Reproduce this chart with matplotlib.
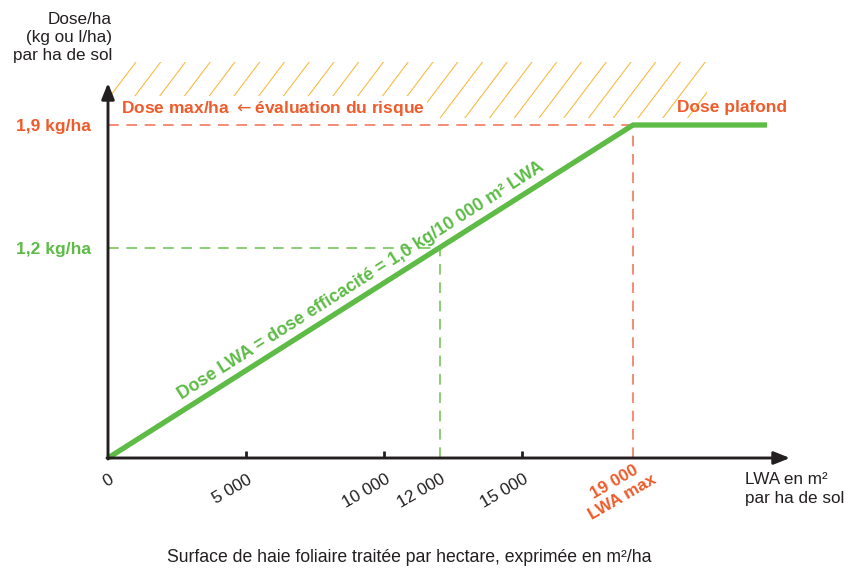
import matplotlib
matplotlib.use('Agg')
import matplotlib.pyplot as plt
import numpy as np
from matplotlib.transforms import ScaledTranslation
from matplotlib.patches import Rectangle

plt.rcParams['font.family'] = ['Liberation Sans', 'DejaVu Sans']

# ---------------- data ----------------
x_ticks = [0, 5000, 10000, 12000, 15000, 19000]
x_tick_labels = ['0', '5 000', '10 000', '12 000', '15 000', '19 000\nLWA max']
x_marked_ticks = [5000, 10000, 15000]
lwa = [0, 19000, 23850]          # m² LWA / ha
dose = [0.0, 1.9, 1.9]           # kg/ha
dose_max = 1.9
lwa_max = 19000
dose_eff = 1.2
lwa_eff = 12000
y_ticks = [1.9, 1.2]
y_tick_labels = ['1,9 kg/ha', '1,2 kg/ha']

# ---------------- style ----------------
ORANGE = '#EF5B2B'
ORANGE_DASH = '#F26E4E'
GREEN = '#5DBB46'
GREEN_DASH = '#6CC04E'
HATCH = '#F7B839'
DARK = '#231F20'

W, H = 858, 569
fig = plt.figure(figsize=(W / 100, H / 100), dpi=100)

x0px, y0px = 108, 458
xr_px, yt_px = 790, 62
px_per_x = (633 - 108) / 19000
px_per_y = (458 - 125) / 1.9
xmax = (xr_px - x0px) / px_per_x
ymax = (y0px - yt_px) / px_per_y

ax = fig.add_axes([x0px / W, (H - y0px) / H, (xr_px - x0px) / W, (y0px - yt_px) / H])
ax.set_xlim(0, xmax)
ax.set_ylim(0, ymax)
for s in ax.spines.values():
    s.set_visible(False)


def X(px):
    return (px - x0px) / px_per_x


def Y(py):
    return (y0px - py) / px_per_y


# hatched "risk" zone
rect = Rectangle((X(112), Y(118)), X(707) - X(112), Y(62) - Y(118),
                 facecolor='none', edgecolor='none')
ax.add_patch(rect)
slope = 41 / 56
for k in range(-3, 26):
    top = 136 + k * 24.75
    xs = [X(top + 2 * slope), X(top - 60 * slope)]
    ys = [Y(60), Y(120)]
    ln, = ax.plot(xs, ys, color=HATCH, lw=0.75, zorder=1)
    ln.set_clip_path(rect)

# reference dashed lines
dash = (0, (7, 5))
ax.plot([0, lwa_max], [dose_max, dose_max], ls=dash, color=ORANGE_DASH, lw=1.1, zorder=2)
ax.plot([lwa_max, lwa_max], [0, dose_max], ls=dash, color=ORANGE_DASH, lw=1.1, zorder=2)
ax.plot([0, lwa_eff], [dose_eff, dose_eff], ls=dash, color=GREEN_DASH, lw=1.1, zorder=2)
ax.plot([lwa_eff, lwa_eff], [0, dose_eff], ls=dash, color=GREEN_DASH, lw=1.1, zorder=2)

# dose curve
ax.plot(lwa, dose, color=GREEN, lw=3.8, solid_capstyle='butt',
        solid_joinstyle='miter', zorder=4, clip_on=False)

# axes arrows
arrow = dict(arrowstyle='-|>,head_length=0.8,head_width=0.32', lw=2.1,
             color=DARK, shrinkA=0, shrinkB=0, mutation_scale=12)
ax.annotate('', xy=(xmax, 0), xytext=(X(107), 0), arrowprops=arrow,
            annotation_clip=False, zorder=5)
ax.annotate('', xy=(0, Y(83)), xytext=(0, Y(459)), arrowprops=arrow,
            annotation_clip=False, zorder=5)

# x ticks
ax.set_xticks(x_ticks, x_tick_labels)
ax.set_xticks(x_marked_ticks, minor=True)
ax.xaxis.remove_overlapping_locs = False
ax.tick_params(axis='x', which='major', length=0, pad=10, labelsize=12.3, labelcolor=DARK)
ax.tick_params(axis='x', which='minor', direction='in', length=5, width=2, color=DARK)
labs = ax.get_xticklabels()
for i, lab in enumerate(labs):
    lab.set_rotation(30)
    lab.set_ha('right')
    lab.set_va('top')
    lab.set_rotation_mode('anchor')
    dxp, dyp = (1, 0) if i < len(labs) - 1 else (10, 15)
    lab.set_transform(lab.get_transform() +
                      ScaledTranslation(dxp / 100, dyp / 100, fig.dpi_scale_trans))
last = labs[-1]
last.set_color(ORANGE)
last.set_fontweight('bold')
last.set_multialignment('center')

# y ticks
ax.set_yticks(y_ticks, y_tick_labels)
ax.tick_params(axis='y', length=0, pad=12, labelsize=12.5)
ylabs = ax.get_yticklabels()
for lab, col in zip(ylabs, [ORANGE, GREEN]):
    lab.set_color(col)
    lab.set_fontweight('bold')

# annotations
ax.text(X(121), Y(108), 'Dose max/ha $\\leftarrow$\u00e9valuation du risque', color=ORANGE,
        fontsize=12.5, fontweight='bold', ha='left', va='center', zorder=3,
        bbox=dict(boxstyle='square,pad=0.15', facecolor='white', edgecolor='none'))
ax.text(X(677), Y(107), 'Dose plafond', color=ORANGE, fontsize=12.5,
        fontweight='bold', ha='left', va='center', zorder=3)

# label along the line
p0 = ax.transData.transform((lwa[0], dose[0]))
p1 = ax.transData.transform((lwa[1], dose[1]))
ang = np.degrees(np.arctan2(p1[1] - p0[1], p1[0] - p0[0]))
th = np.radians(ang)
off = 10
xc = 9450
yc = xc * dose_max / lwa_max
t = ax.text(xc, yc, 'Dose LWA = dose efficacit\u00e9 = 1,0 kg/10 000 m\u00b2 LWA',
            color=GREEN, fontsize=12.8, fontweight='bold', rotation=ang,
            rotation_mode='anchor', ha='center', va='baseline', zorder=6)
t.set_transform(ax.transData + ScaledTranslation(-np.sin(th) * off / 100,
                                                   np.cos(th) * off / 100,
                                                   fig.dpi_scale_trans))

# axis titles
fig.text(112 / W, 1 - 12 / H, 'Dose/ha\n(kg ou l/ha)\npar ha de sol', ha='right',
         va='top', fontsize=12.3, color=DARK, linespacing=1.25)
fig.text(745 / W, 1 - 472 / H, 'LWA en m\u00b2\npar ha de sol', ha='left', va='top',
         fontsize=12.3, color=DARK, linespacing=1.3)
fig.text(409 / W, 1 - 558 / H,
         'Surface de haie foliaire trait\u00e9e par hectare, exprim\u00e9e en m\u00b2/ha',
         ha='center', va='center', fontsize=12.7, color=DARK)

fig.savefig('out.png', dpi=100)
